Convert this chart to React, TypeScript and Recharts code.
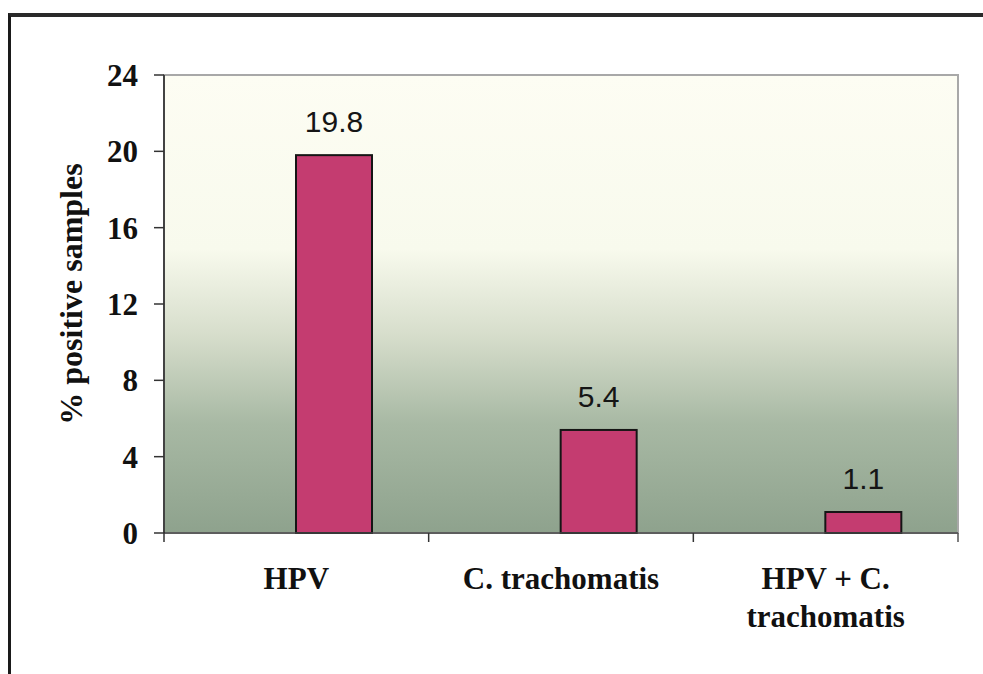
import { BarChart, Bar, XAxis, YAxis, ReferenceArea } from 'recharts'

const categories = ['HPV', 'C. trachomatis', 'HPV + C.\ntrachomatis']
const positiveValues = [19.8, 5.4, 1.1]
const yTicks = [0, 4, 8, 12, 16, 20, 24]

const data = categories.map((name, i) => ({ name, value: positiveValues[i] }))

const WIDTH = 983
const HEIGHT = 674
const MARGIN = { top: 75, right: 25, bottom: 41, left: 64 }
const Y_AXIS_W = 100
const PLOT_W = WIDTH - MARGIN.left - MARGIN.right - Y_AXIS_W
const BAND = PLOT_W / categories.length

const serif = '"Liberation Serif", "Times New Roman", serif'
const sans = '"Liberation Sans", Arial, sans-serif'

// bars sit to the right of the category centre, like the original
const ShiftedBar = (props: any) => {
  const { x, y, width, height, fill } = props
  return (
    <rect
      x={x + width / 2}
      y={y}
      width={width}
      height={height}
      fill={fill}
      stroke="#151515"
      strokeWidth={2}
    />
  )
}

const BarValue = (props: any) => {
  const { x, y, width, value } = props
  return (
    <text
      x={x + width}
      y={y - 23}
      textAnchor="middle"
      fontFamily={sans}
      fontSize={30}
      fill="#151515"
    >
      {value}
    </text>
  )
}

const CategoryTick = (props: any) => {
  const { x, y, payload, index } = props
  const lines = String(payload.value).split('\n')
  return (
    <g>
      <line x1={x - BAND / 2} y1={y} x2={x - BAND / 2} y2={y + 9} stroke="#333" strokeWidth={1.5} />
      {index === categories.length - 1 && (
        <line x1={x + BAND / 2} y1={y} x2={x + BAND / 2} y2={y + 9} stroke="#555" strokeWidth={1.5} />
      )}
      <text textAnchor="middle" fontFamily={serif} fontWeight="bold" fontSize={31} fill="#111">
        {lines.map((l, i) => (
          <tspan key={i} x={x} y={y + 56 + i * 38}>
            {l}
          </tspan>
        ))}
      </text>
    </g>
  )
}

const YTitle = (props: any) => {
  const { viewBox } = props
  const cx = viewBox.x + 18
  const cy = viewBox.y + viewBox.height / 2 - 10
  return (
    <text
      x={cx}
      y={cy}
      transform={`rotate(-90, ${cx}, ${cy})`}
      textAnchor="middle"
      fontFamily={serif}
      fontWeight="bold"
      fontSize={32}
      fill="#111"
    >
      % positive samples
    </text>
  )
}

export default function App() {
  return (
    <div style={{ position: 'absolute', left: 0, top: 0, width: WIDTH, height: HEIGHT, background: '#fff' }}>
      <div
        style={{
          position: 'absolute',
          left: 8,
          top: 13,
          right: 0,
          bottom: 0,
          borderTop: '4px solid #2a2a2a',
          borderLeft: '3px solid #1a1a1a',
        }}
      />
      <div style={{ position: 'absolute', left: 0, top: 0 }}>
        <BarChart width={WIDTH} height={HEIGHT} data={data} margin={MARGIN} barSize={76}>
          <defs>
            <linearGradient id="plotBg" x1="0" y1="0" x2="0" y2="1">
              <stop offset="0%" stopColor="#fdfdf3" />
              <stop offset="38%" stopColor="#f8faed" />
              <stop offset="57%" stopColor="#d6ddcb" />
              <stop offset="76%" stopColor="#a8b9a4" />
              <stop offset="100%" stopColor="#8ea28d" />
            </linearGradient>
          </defs>
          <ReferenceArea y1={0} y2={24} fill="url(#plotBg)" fillOpacity={1} stroke="#a8a8a8" strokeWidth={2} />
          <XAxis
            dataKey="name"
            interval={0}
            height={100}
            tickLine={false}
            tickSize={0}
            tickMargin={0}
            axisLine={{ stroke: '#444', strokeWidth: 1.5 }}
            tick={<CategoryTick />}
          />
          <YAxis
            width={Y_AXIS_W}
            domain={[0, 24]}
            ticks={yTicks}
            interval={0}
            tickSize={10}
            tickMargin={16}
            axisLine={{ stroke: '#222', strokeWidth: 1.5 }}
            tickLine={{ stroke: '#333', strokeWidth: 1.5 }}
            tick={{ fontFamily: serif, fontWeight: 'bold', fontSize: 31, fill: '#111' }}
            label={<YTitle />}
          />
          <Bar
            dataKey="value"
            fill="#c43c70"
            shape={<ShiftedBar />}
            label={<BarValue />}
            isAnimationActive={false}
          />
        </BarChart>
      </div>
    </div>
  )
}
